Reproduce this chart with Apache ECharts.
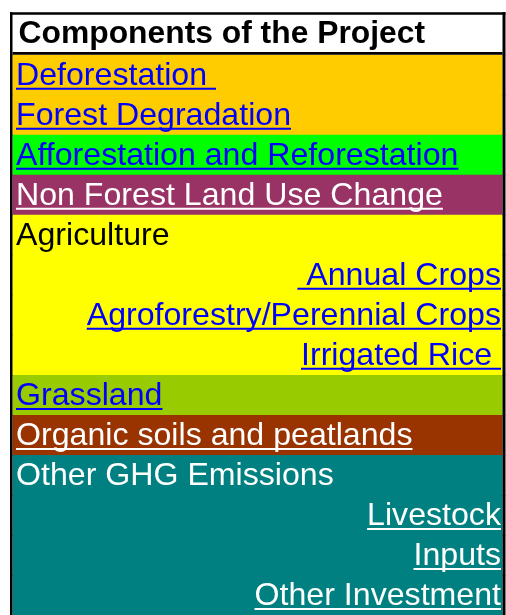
<!DOCTYPE html>
<html><head><meta charset="utf-8">
<script src="https://cdn.jsdelivr.net/npm/echarts@6/dist/echarts.min.js"></script>
<style>html,body{margin:0;padding:0;background:#fff;}#c{width:506px;height:615px;}</style>
</head><body><div id="c"></div>
<script>
// ---- content ----
const headerText = 'Components of the Project';
const components = ['Deforestation ', 'Forest Degradation', 'Afforestation and Reforestation',
  'Non Forest Land Use Change', 'Agriculture', ' Annual Crops', 'Agroforestry/Perennial Crops',
  'Irrigated Rice ', 'Grassland', 'Organic soils and peatlands', 'Other GHG Emissions',
  'Livestock', 'Inputs', 'Other Investment'];
const componentGroups = ['Forest', 'Forest', 'Afforestation', 'NonForest', 'Agriculture', 'Agriculture',
  'Agriculture', 'Agriculture', 'Grassland', 'Organic', 'OtherGHG', 'OtherGHG', 'OtherGHG', 'OtherGHG'];
const componentLevels = [0, 0, 0, 0, 0, 1, 1, 1, 0, 0, 0, 1, 1, 1];
const componentIsLink = [true, true, true, true, false, true, true, true, true, true, false, true, true, true];

// ---- styles ----
const groupFill = { Forest: '#ffcc00', Afforestation: '#00ff00', NonForest: '#993366', Agriculture: '#ffff00',
  Grassland: '#99cc00', Organic: '#993300', OtherGHG: '#008080' };
const groupLinkInk = { Forest: '#0000ff', Afforestation: '#0000ff', NonForest: '#ffffff', Agriculture: '#0000ff',
  Grassland: '#0000ff', Organic: '#ffffff', OtherGHG: '#ffffff' };
const groupPlainInk = { Agriculture: '#000000', OtherGHG: '#ffffff' };
const FONT_FAMILY = '"Liberation Sans", Arial, sans-serif';
const FONT_SIZE = 31.5;
const TEXT_STRETCH = 1.02;
const HEADER_STRETCH = 1.01;

const rows = [headerText].concat(components);

const measureCtx = document.createElement('canvas').getContext('2d');
function textMetrics(text, bold) {
  measureCtx.font = (bold ? 'bold ' : '') + FONT_SIZE + 'px ' + FONT_FAMILY;
  measureCtx.textBaseline = 'middle';
  const w = measureCtx.measureText(text).width;
  const h = measureCtx.measureText('H');
  return { width: w, asc: h.actualBoundingBoxAscent, desc: h.actualBoundingBoxDescent };
}

function renderItem(params, api) {
  const cat = api.value(1);
  const p0 = api.coord([0, cat]);
  const p1 = api.coord([api.value(0), cat]);
  const bandH = api.size([0, 1])[1];
  const left = p0[0], right = p1[0];
  const top = p0[1] - bandH / 2, bottom = p0[1] + bandH / 2;
  const children = [];
  const isHeader = cat === 0;
  let fill, ink, text, align, tx, link, bold, capCenter, stretch;
  if (isHeader) {
    fill = '#ffffff'; ink = '#000000'; text = headerText; align = 'left';
    tx = left + 6; link = false; bold = true; capCenter = p0[1] - 2.8; stretch = HEADER_STRETCH;
  } else {
    const i = cat - 1;
    const g = componentGroups[i];
    fill = groupFill[g];
    link = componentIsLink[i];
    ink = link ? groupLinkInk[g] : groupPlainInk[g];
    text = components[i];
    bold = false;
    stretch = TEXT_STRETCH;
    if (componentLevels[i] === 0) { align = 'left'; tx = left + 3.5; }
    else { align = 'right'; tx = right - 1.5; }
    capCenter = p0[1] - 1;
  }
  const m = textMetrics(text, bold);
  const ty = capCenter - (m.desc - m.asc) / 2;
  const baseline = ty + m.desc;
  const w = m.width * stretch;
  children.push({ type: 'rect', shape: { x: left, y: top, width: right - left, height: bandH + 0.5 },
    style: { fill: fill }, z2: 1 });
  children.push({ type: 'text', z2: 5, x: tx, y: ty, scaleX: stretch,
    style: { text: text, x: 0, y: 0, align: align, verticalAlign: 'middle',
    fill: ink, font: (bold ? 'bold ' : '') + FONT_SIZE + 'px ' + FONT_FAMILY } });
  if (link) {
    const ux0 = align === 'left' ? tx : tx - w;
    const ux1 = align === 'left' ? tx + w : tx;
    children.push({ type: 'line', z2: 5, shape: { x1: ux0, y1: baseline + 4, x2: ux1, y2: baseline + 4 },
      style: { stroke: ink, lineWidth: 2 } });
  }
  // frame
  children.push({ type: 'line', z2: 10, shape: { x1: left - 1.25, y1: top - (isHeader ? 2.5 : 0), x2: left - 1.25, y2: bottom + 0.5 },
    style: { stroke: '#000', lineWidth: 2.5 } });
  children.push({ type: 'line', z2: 10, shape: { x1: right + 1.5, y1: top - (isHeader ? 2.5 : 0), x2: right + 1.5, y2: bottom + 0.5 },
    style: { stroke: '#000', lineWidth: 3 } });
  if (isHeader) {
    children.push({ type: 'line', z2: 10, shape: { x1: left - 2.5, y1: top - 1.25, x2: right + 3, y2: top - 1.25 },
      style: { stroke: '#000', lineWidth: 2.5 } });
    children.push({ type: 'line', z2: 10, shape: { x1: left, y1: bottom - 1.4, x2: right, y2: bottom - 1.4 },
      style: { stroke: '#000', lineWidth: 2.8 } });
  }
  return { type: 'group', children: children };
}

const chart = echarts.init(document.getElementById('c'), null, { renderer: 'canvas' });
chart.setOption({
  backgroundColor: '#ffffff',
  animation: false,
  grid: { left: 12.5, right: 3.5, top: 14.7, bottom: -4.2 },
  xAxis: { type: 'value', min: 0, max: 1, show: false },
  yAxis: { type: 'category', data: rows, inverse: true, show: false, boundaryGap: true },
  series: [{
    type: 'custom',
    silent: true,
    renderItem: renderItem,
    encode: { x: 0, y: 1 },
    clip: false,
    data: rows.map(function (_, i) { return [1, i]; })
  }]
});
</script>
</body></html>
